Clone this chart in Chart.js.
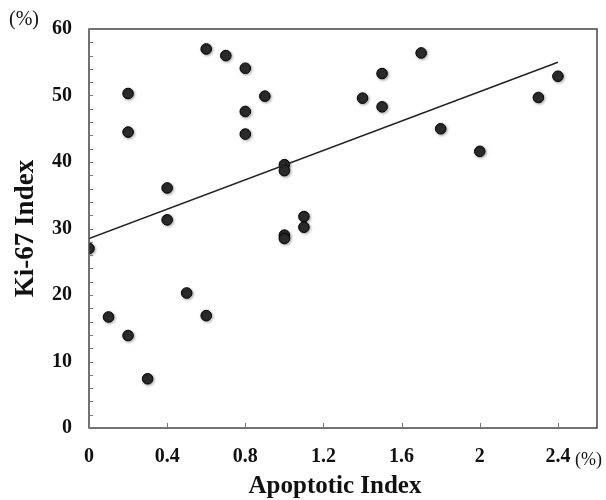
<!DOCTYPE html>
<html>
<head>
<meta charset="utf-8">
<script src="https://cdn.jsdelivr.net/npm/chart.js@4/dist/chart.umd.min.js"></script>
<style>
html,body{margin:0;padding:0;background:#fff;}
#wrap{width:606px;height:500px;}
</style>
</head>
<body>
<div id="wrap"><canvas id="c" width="606" height="500"></canvas></div>
<script>
// Data
const apoptoticIndex = [0.2,0.2,0.6,0.7,0.8,0.9,0.8,0.8,1.0,1.0,0.4,0.4,1.1,1.1,1.0,1.0,0.0,0.5,0.1,0.6,0.2,0.3,1.7,1.5,1.4,1.5,1.8,2.0,2.3,2.4];
const ki67Index      = [50.3,44.5,57.0,56.0,54.1,49.9,47.6,44.2,39.6,38.7,36.1,31.3,31.8,30.2,29.0,28.5,27.0,20.3,16.7,16.9,13.9,7.4,56.4,53.3,49.6,48.3,45.0,41.6,49.7,52.9];
const trendX = [0, 2.4];
const trendY = [28.5, 55.0];
const xTickValues = [0,0.4,0.8,1.2,1.6,2,2.4];
const yTickValues = [0,10,20,30,40,50,60];
const yMinorStep = 2;
const xTitle = 'Apoptotic Index';
const yTitle = 'Ki-67 Index';
const unitLabel = '(%)';

const points = apoptoticIndex.map((x,i)=>({x:x,y:ki67Index[i]}));
const trend = trendX.map((x,i)=>({x:x,y:trendY[i]}));

const serif = "'Liberation Serif','Times New Roman',serif";

const decor = {
  id:'decor',
  beforeDatasetDraw(chart,args){
    if(args.index===1){
      chart.ctx.save();
      chart.ctx.shadowColor='rgba(0,0,0,0.35)';
      chart.ctx.shadowBlur=3;
      chart.ctx.shadowOffsetX=1;
      chart.ctx.shadowOffsetY=1;
    }
  },
  afterDatasetDraw(chart,args){
    if(args.index===1){ chart.ctx.restore(); }
  },
  afterDraw(chart){
    const ctx=chart.ctx, a=chart.chartArea, xs=chart.scales.x, ys=chart.scales.y;
    ctx.save();
    // frame
    ctx.strokeStyle='#444';
    ctx.lineWidth=1.5;
    ctx.strokeRect(a.left,a.top,a.right-a.left,a.bottom-a.top);
    // y ticks (inward)
    ctx.strokeStyle='#777';
    ctx.lineWidth=1;
    for(let v=ys.min; v<=ys.max; v+=yMinorStep){
      const py=Math.round(ys.getPixelForValue(v))+0.5;
      ctx.beginPath(); ctx.moveTo(a.left,py); ctx.lineTo(a.left+4,py); ctx.stroke();
    }
    // x ticks (inward)
    xTickValues.forEach(v=>{
      const px=Math.round(xs.getPixelForValue(v))+0.5;
      ctx.beginPath(); ctx.moveTo(px,a.bottom); ctx.lineTo(px,a.bottom-5); ctx.stroke();
    });
    // unit labels
    ctx.fillStyle='#111';
    ctx.textBaseline='middle';
    ctx.textAlign='left';
    ctx.font="20px "+serif;
    ctx.fillText(unitLabel,9,20);
    ctx.font="18px "+serif;
    ctx.fillText(unitLabel,575,460);
    // x title
    ctx.font="bold 25px "+serif;
    ctx.textAlign='center';
    ctx.fillText(xTitle,335,487);
    ctx.restore();
  }
};

new Chart(document.getElementById('c'),{
  data:{
    datasets:[
      {type:'line',data:trend,borderColor:'#222',borderWidth:1.5,pointRadius:0,fill:false,tension:0},
      {type:'scatter',data:points,backgroundColor:'#2b2b2b',borderColor:'#000',borderWidth:1,pointRadius:5.3}
    ]
  },
  options:{
    responsive:false,
    animation:false,
    layout:{padding:{left:0,right:9,top:23,bottom:0}},
    plugins:{legend:{display:false},tooltip:{enabled:false}},
    scales:{
      x:{
        type:'linear',min:0,max:2.6,
        afterBuildTicks(s){ s.ticks=xTickValues.map(v=>({value:v})); },
        afterFit(s){ s.height=72; },
        border:{display:false},
        grid:{display:false,drawTicks:false},
        ticks:{padding:17,color:'#111',font:{family:serif,size:20,weight:'bold'},maxRotation:0,autoSkip:false,
          callback:(v)=>String(v)},
        title:{display:false}
      },
      y:{
        type:'linear',min:0,max:60,
        afterBuildTicks(s){ s.ticks=yTickValues.map(v=>({value:v})); },
        afterFit(s){ s.width=89; },
        border:{display:false},
        grid:{display:false,drawTicks:false},
        ticks:{padding:17,color:'#111',font:{family:serif,size:20,weight:'bold'}},
        title:{display:true,text:yTitle,color:'#111',font:{family:serif,size:27,weight:'bold'},padding:{top:10,bottom:0}}
      }
    }
  },
  plugins:[decor]
});
</script>
</body>
</html>
